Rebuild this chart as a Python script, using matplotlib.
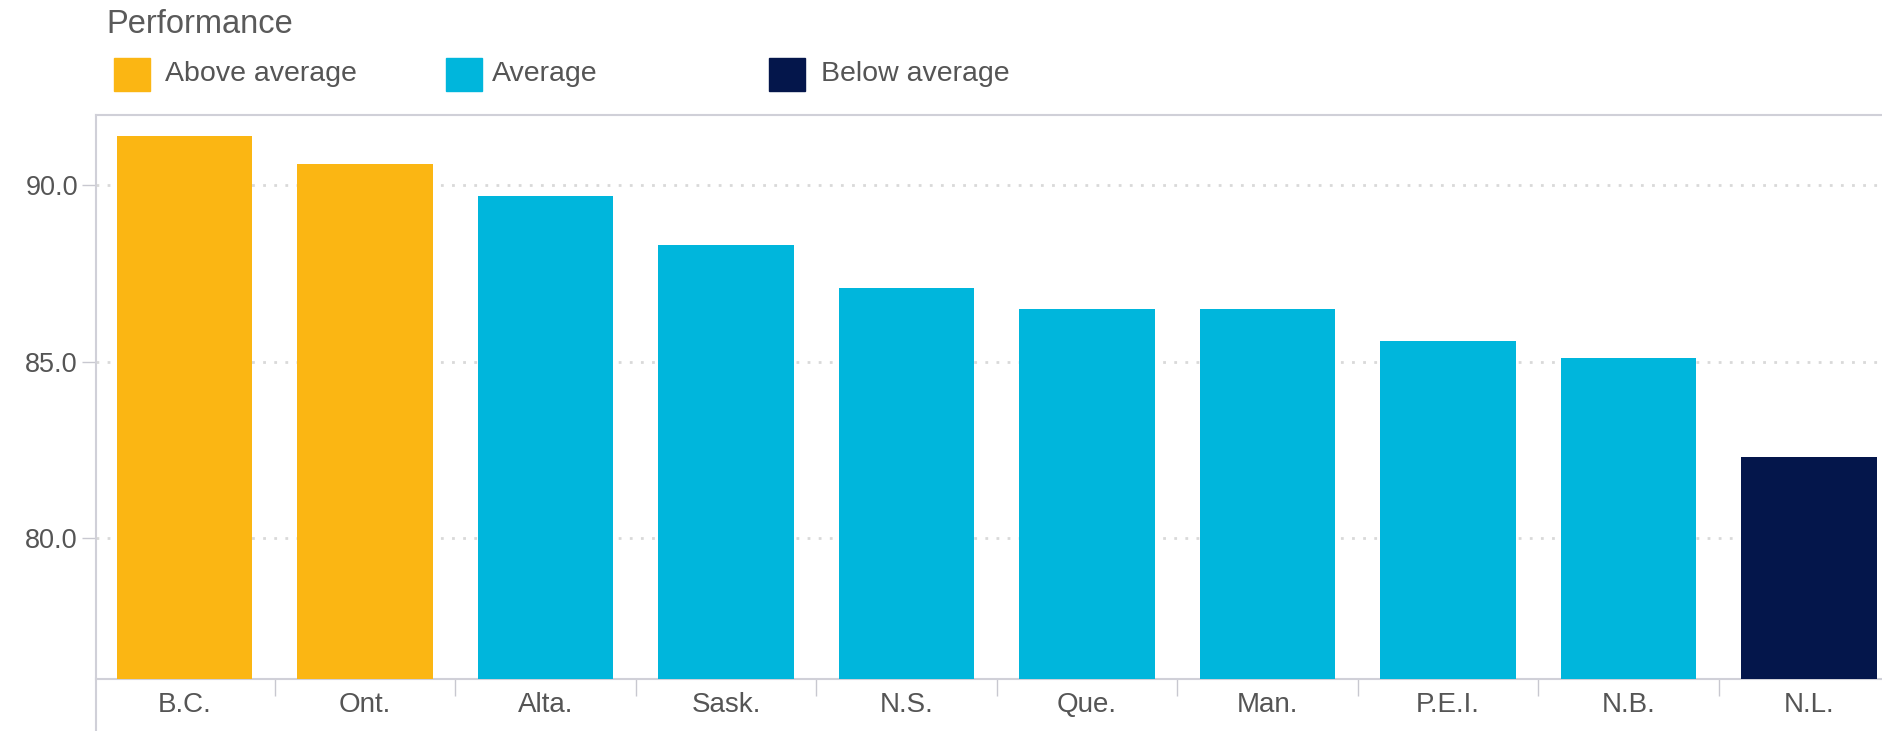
import matplotlib
matplotlib.use("Agg")
import matplotlib.pyplot as plt
from matplotlib.patches import Rectangle
from matplotlib.lines import Line2D

plt.rcParams['font.family'] = ['Liberation Sans', 'DejaVu Sans']

# data
provinces = ['B.C.', 'Ont.', 'Alta.', 'Sask.', 'N.S.', 'Que.', 'Man.', 'P.E.I.', 'N.B.', 'N.L.']
scores = [91.4, 90.6, 89.7, 88.3, 87.1, 86.5, 86.5, 85.6, 85.1, 82.3]
groups = ['Above average', 'Above average', 'Average', 'Average', 'Average',
          'Average', 'Average', 'Average', 'Average', 'Below average']
yticks = [80.0, 85.0, 90.0]

colors = {'Above average': '#FBB613', 'Average': '#00B6DC', 'Below average': '#04164B'}
text_color = '#555555'

fig = plt.figure(figsize=(18.83, 7.31), dpi=100)
ax = fig.add_axes([0.051, 0.0711, 0.949, 0.7716])

x = list(range(len(provinces)))
ax.bar(x, scores, width=0.75, color=[colors[g] for g in groups], zorder=3)

ax.set_xlim(-0.49, 9.41)
ax.set_ylim(76, 92)

# gridlines
ax.set_yticks(yticks)
ax.set_yticklabels([f'{v:.1f}' for v in yticks])
ax.yaxis.grid(True, linestyle=(0, (1, 3)), color='#d9d9d9', linewidth=2, zorder=0)
ax.tick_params(axis='y', length=10, width=1, color='#c8c8d0', pad=3,
               labelsize=19.5, labelcolor=text_color)

ax.set_xticks(x)
ax.set_xticklabels(provinces)
ax.set_xticks([i + 0.5 for i in x[:-1]], minor=True)
ax.tick_params(axis='x', which='major', length=0, pad=9, labelsize=20, labelcolor=text_color)
ax.tick_params(axis='x', which='minor', length=12, width=1, color='#c8c8d0')

for side in ['top', 'left', 'bottom']:
    ax.spines[side].set_color('#d0d0d8')
    ax.spines[side].set_linewidth(1.5)
ax.spines['right'].set_visible(False)

# left spine runs down to the bottom edge
fig.add_artist(Line2D([0.051, 0.051], [0, 0.0711], color='#d0d0d8', linewidth=1.5))

# title and legend
fig.text(0.0563, 0.967, 'Performance', fontsize=23.5, color='#5a5a5a', va='center',
         ha='left')
legend_items = [('Above average', 0.0605, 0.0877),
                ('Average', 0.2369, 0.2613),
                ('Below average', 0.4084, 0.436)]
for label, sx, tx in legend_items:
    fig.add_artist(Rectangle((sx, 0.876), 0.0191, 0.045, transform=fig.transFigure,
                             color=colors[label]))
    fig.text(tx, 0.899, label, fontsize=20.5, color=text_color, va='center', ha='left')

fig.savefig('out.png', dpi=100)
